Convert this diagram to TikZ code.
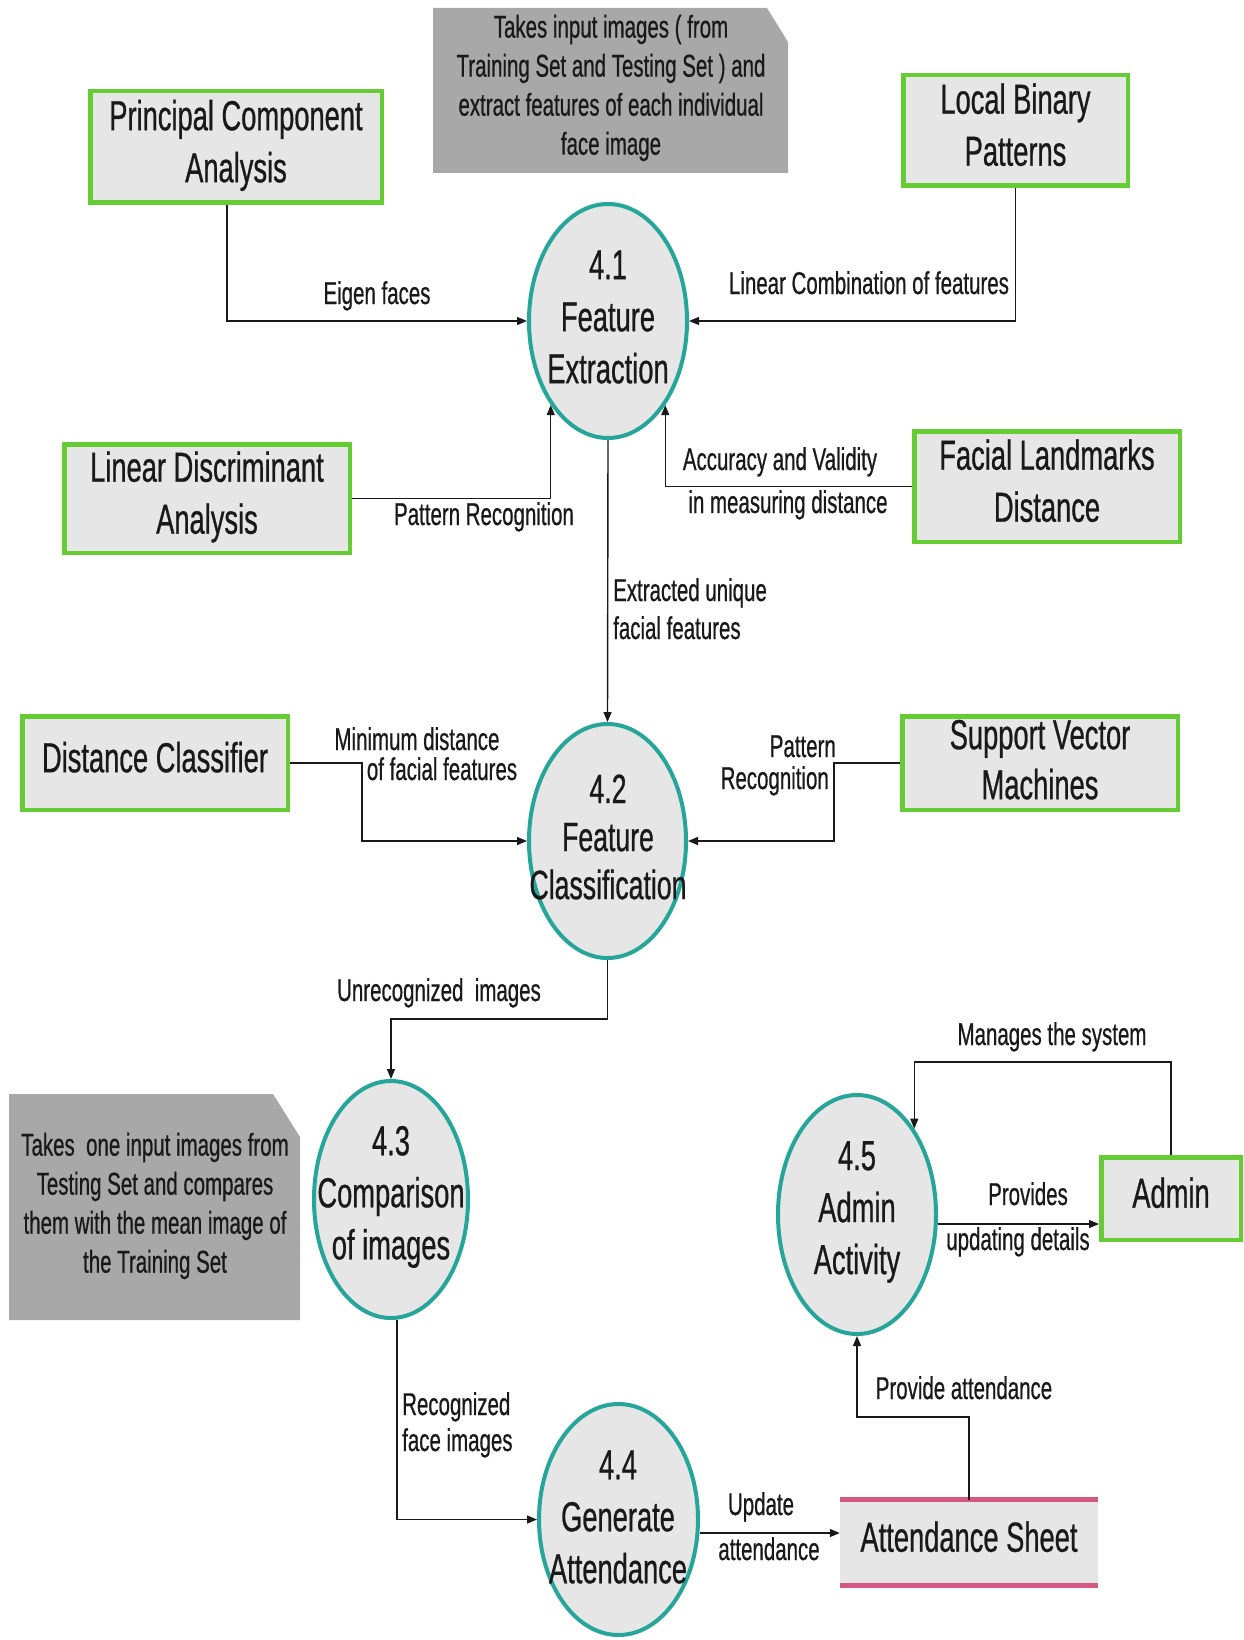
\documentclass[tikz,border=0pt]{standalone}
\usepackage{fontspec}
\setmainfont{Liberation Sans}[FakeStretch=0.65,FakeBold=0.6]
\usetikzlibrary{shapes.geometric,arrows.meta}

\definecolor{boxgreen}{RGB}{102,204,51}
\definecolor{procteal}{RGB}{38,166,154}
\definecolor{paleface}{RGB}{230,230,230}
\definecolor{notegray}{RGB}{168,168,168}
\definecolor{storepink}{RGB}{212,88,130}
\definecolor{ink}{RGB}{25,25,25}

\newcommand\bigtext{\fontsize{42}{52}\selectfont}
\newcommand\midtext{\fontsize{41}{48}\selectfont}
\newcommand\svmtext{\fontsize{42}{50}\selectfont}
\newcommand\smalltext{\fontsize{31.5}{39}\selectfont}

\begin{document}
\begin{tikzpicture}[x=1pt,y=-1pt,
  extent/.style={draw=boxgreen, line width=4.5pt, fill=paleface, inner sep=0pt,
                 align=center, font=\bigtext, text=ink, text depth=12pt},
  proc/.style={ellipse, draw=procteal, line width=4pt, fill=paleface, inner sep=0pt},
  proctext/.style={align=center, font=\bigtext, text=ink, inner sep=0pt},
  lbl/.style={font=\smalltext, text=ink, inner sep=0pt, text height=23pt, text depth=7pt},
  notetext/.style={align=center, font=\smalltext, text=ink, inner sep=0pt},
  flow/.style={draw=ink, line width=1.4pt, -{Triangle[length=10pt,width=8pt]}},
  store/.style={fill=paleface, inner sep=0pt, font=\bigtext, text=ink, text depth=12pt},
  storeline/.style={draw=storepink, line width=5pt}]

\fill[white] (0,0) rectangle (1244,1640);
\useasboundingbox (0,0) rectangle (1244,1640);

% annotation notes with a clipped corner
\fill[notegray] (433,8) -- (767,8) -- (788,42) -- (788,173) -- (433,173) -- cycle;
\node[notetext] (note1) at (611,88)
  {Takes input images ( from\\Training Set and Testing Set ) and\\extract features of each individual\\face image};
\fill[notegray] (9,1094) -- (273,1094) -- (300,1137) -- (300,1320) -- (9,1320) -- cycle;
\node[notetext] (note2) at (155,1206)
  {Takes\ \ one input images from\\Testing Set and compares\\them with the mean image of\\the Training Set};

% external entities
\node[extent, minimum width=291.5, minimum height=111.5] (pca) at (236,147) {Principal Component\\Analysis};
\node[extent, minimum width=224.5, minimum height=110.5] (lbp) at (1015.5,130.5) {Local Binary\\Patterns};
\node[extent, minimum width=285.5, minimum height=108.5] (lda) at (207,498.5) {Linear Discriminant\\Analysis};
\node[extent, minimum width=265.5, minimum height=110.5] (fld) at (1047,486.5) {Facial Landmarks\\Distance};
\node[extent, minimum width=265.5, minimum height=93.5] (dc) at (155,763) {Distance Classifier};
\node[extent, minimum width=275.5, minimum height=93.5, font=\svmtext, text depth=7pt] (svm) at (1040,763) {Support Vector\\Machines};
\node[extent, minimum width=139.5, minimum height=82.5] (admin) at (1171,1198.5) {Admin};

% processes
\node[proc, minimum width=158, minimum height=234] (e1) at (608,321) {};
\node[proctext] (e1t) at (608,317) {4.1\\Feature\\Extraction};
\node[proc, minimum width=157, minimum height=234] (e2) at (607.5,841) {};
\node[proctext, font=\midtext] (e2t) at (608,837) {4.2\\Feature\\Classification};
\node[proc, minimum width=154, minimum height=237] (e3) at (391,1199.5) {};
\node[proctext] (e3t) at (391,1197) {4.3\\Comparison\\of images};
\node[proc, minimum width=159, minimum height=231] (e4) at (618.5,1519.5) {};
\node[proctext] (e4t) at (618,1517) {4.4\\Generate\\Attendance};
\node[proc, minimum width=158, minimum height=239] (e5) at (857,1214.5) {};
\node[proctext] (e5t) at (857,1212) {4.5\\Admin\\Activity};

% data store
\node[store, minimum width=258, minimum height=85] (att) at (969,1542.5) {Attendance Sheet};
\draw[storeline] (att.north west) -- (att.north east);
\draw[storeline] (att.south west) -- (att.south east);

% flows
\draw[flow] ([xshift=-9]pca.south) |- (e1.west);
\draw[flow] (lbp.south) |- (e1.east);
\draw[flow] (lda.east) -| (e1.south west);
\draw[flow] (fld.west) -| (e1.south east);
\draw[flow] (e1.south) -- (e2.north);
\draw[flow] (dc.east) -- ++(72,0) |- (e2.west);
\draw[flow] (svm.west) -- ++(-66,0) |- (e2.east);
\draw[flow] (e2.south) -- ++(0,59) -| (e3.north);
\draw[flow] ([xshift=6]e3.south) |- (e4.west);
\draw[flow] (e4.east |- 0,1533) -- (att.west |- 0,1533);
\draw[flow] (att.north) -- (att.north |- 0,1417) -| (e5.south);
\draw[flow] (e5.east |- 0,1224) -- (admin.west |- 0,1224);
\draw[flow] (admin.north) -- (admin.north |- 0,1062) -| (e5.north east);

% flow labels
\node[lbl] (l1) at (377,296) {Eigen faces};
\node[lbl] (l2) at (869,286) {Linear Combination of features};
\node[lbl] (l3) at (484,517) {Pattern Recognition};
\node[lbl] (l4a) at (780,462) {Accuracy and Validity};
\node[lbl] (l4b) at (788,505) {in measuring distance};
\node[lbl, anchor=west] (l5a) at (613,593) {Extracted unique};
\node[lbl, anchor=west] (l5b) at (613,631) {facial features};
\node[lbl] (l6a) at (417,742) {Minimum distance};
\node[lbl] (l6b) at (442,772) {of facial features};
\node[lbl, anchor=east] (l7a) at (836,749) {Pattern};
\node[lbl, anchor=east] (l7b) at (829,781) {Recognition};
\node[lbl] (l8) at (439,993) {Unrecognized\ \ images};
\node[lbl, anchor=west] (l9a) at (402,1407) {Recognized};
\node[lbl, anchor=west] (l9b) at (402,1443) {face images};
\node[lbl] (l10a) at (761,1507) {Update};
\node[lbl] (l10b) at (769,1552) {attendance};
\node[lbl] (l11) at (964,1391) {Provide attendance};
\node[lbl] (l12a) at (1028,1197) {Provides};
\node[lbl] (l12b) at (1018,1242) {updating details};
\node[lbl] (l13) at (1052,1037) {Manages the system};
\end{tikzpicture}
\end{document}
